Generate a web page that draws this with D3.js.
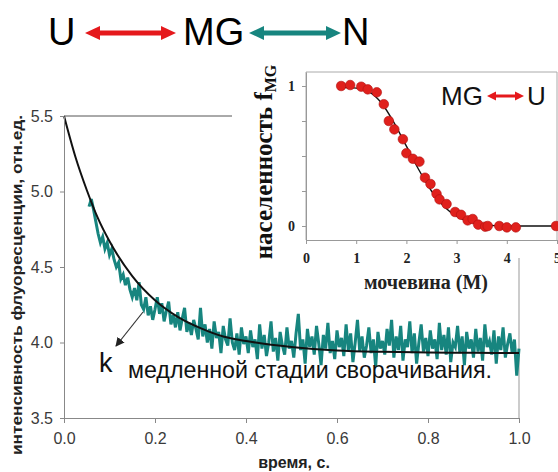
<!DOCTYPE html>
<html>
<head>
<meta charset="utf-8">
<script src="https://cdn.jsdelivr.net/npm/d3@7"></script>
<style>
  body { margin: 0; background: #fff; }
  svg { display: block; }
</style>
</head>
<body>
<svg id="fig" width="558" height="472"></svg>
<script>
// main panel: fluorescence trace, time in s
var traceT0 = 0.055, traceDt = 0.005;
var traceValues = [
  4.90, 4.95, 4.88, 4.80, 4.72, 4.66, 4.70, 4.62, 4.66, 4.58,
  4.62, 4.55, 4.50, 4.53, 4.42, 4.45, 4.38, 4.43, 4.35, 4.30,
  4.36, 4.28, 4.40, 4.25, 4.22, 4.30, 4.18, 4.24, 4.15,
  4.22, 4.30, 4.19, 4.26, 4.14, 4.21, 4.27, 4.12, 4.18, 4.10,
  4.20, 4.08, 4.16, 4.23, 4.07, 4.13, 4.05, 4.15, 4.09, 4.02, 4.23,
  4.04, 4.12, 4.00, 4.09, 3.96, 4.14, 4.03, 4.07, 3.93, 4.11,
  4.02, 3.98, 4.16, 4.00, 3.95, 4.06, 3.92, 4.10, 3.99, 4.04,
  3.93, 4.08, 3.97, 4.02, 3.89, 4.12, 3.96, 4.05, 3.91, 4.00,
  4.14, 3.94, 4.03, 3.88, 4.07, 3.98, 3.92, 4.10, 3.96, 4.01,
  3.90, 4.06, 4.19, 3.95, 4.02, 3.86, 4.09, 3.97, 4.04, 3.92,
  4.11, 3.99, 3.85, 4.05, 3.96, 4.13, 3.93, 4.01, 3.89, 4.08,
  3.97, 4.03, 3.91, 4.12, 3.95, 4.06, 3.87, 4.00, 4.15, 3.94,
  4.04, 3.90, 3.98, 4.10, 3.93, 4.02, 3.84, 4.07, 3.96, 4.01,
  3.92, 4.09, 3.98, 4.15, 3.90, 4.04, 3.95, 4.11, 3.88, 4.02,
  3.97, 4.14, 3.93, 4.06, 3.86, 4.00, 4.12, 3.94, 4.03, 3.91,
  4.08, 3.96, 4.02, 3.89, 4.13, 3.95, 4.05, 3.92, 4.10, 3.87,
  4.00, 3.97, 4.11, 3.93, 4.04, 3.85, 4.07, 3.96, 4.02, 3.90,
  4.09, 3.94, 4.03, 3.88, 4.12, 3.97, 4.01, 3.92, 4.08, 3.86,
  4.04, 3.95, 4.10, 3.90, 3.99, 4.06, 3.93, 4.02, 3.78, 3.96
];
var fitT = [0, 0.025, 0.05, 0.075, 0.1, 0.15, 0.2, 0.25, 0.3, 0.35, 0.4, 0.5, 0.6, 0.7, 0.8, 0.9, 1.0];
var fitV = [5.5, 5.23, 5.01, 4.82, 4.67, 4.44, 4.28, 4.17, 4.095, 4.04, 4.01, 3.97, 3.947, 3.938, 3.934, 3.932, 3.93];
var mainXTicks = [0, 0.2, 0.4, 0.6, 0.8, 1.0];
var mainYTicks = [3.5, 4.0, 4.5, 5.0, 5.5];

// inset: MG population vs urea
var ureaPts = [0.70, 0.88, 1.10, 1.23, 1.41, 1.55, 1.65, 1.76, 1.93, 2.00, 2.13, 2.26, 2.37, 2.48, 2.60, 2.66, 2.80, 2.97, 3.09, 3.22, 3.32, 3.43, 3.57, 3.62, 3.85, 4.00, 4.18, 4.98];
var fmgPts  = [1.00, 1.007, 0.995, 0.976, 0.955, 0.87, 0.75, 0.69, 0.62, 0.52, 0.48, 0.46, 0.345, 0.30, 0.23, 0.19, 0.157, 0.10, 0.08, 0.04, 0.05, 0.01, -0.005, 0.0, 0.0, -0.01, -0.01, 0.0];
var ureaFit = [0.7, 1.0, 1.25, 1.5, 1.75, 2.0, 2.25, 2.5, 2.75, 3.0, 3.25, 3.5, 3.75, 4.0, 5.0];
var fmgFit  = [0.99, 0.985, 0.96, 0.88, 0.74, 0.57, 0.40, 0.25, 0.14, 0.07, 0.03, 0.01, 0.003, 0, 0];
var insetXTicks = [0, 1, 2, 3, 4, 5];
var insetYTicks = [0, 0.25, 0.5, 0.75, 1];

var red = '#e5191c', teal = '#17857f';
var sans = 'Arial, "Liberation Sans", sans-serif';
var serif = '"Liberation Serif", "Times New Roman", serif';
var svg = d3.select('#fig');

var x = d3.scaleLinear().domain([0, 1]).range([64, 519]);
var y = d3.scaleLinear().domain([3.5, 5.5]).range([418, 116]);

// frame bits of the main panel
svg.append('line').attr('x1', 64).attr('x2', 519).attr('y1', 116).attr('y2', 116)
  .attr('stroke', '#555').attr('stroke-width', 1);
svg.append('line').attr('x1', 519).attr('x2', 519).attr('y1', 116).attr('y2', 418)
  .attr('stroke', '#999').attr('stroke-width', 1);

var trace = traceValues.map((v, i) => [traceT0 + i * traceDt, v]);
svg.append('path').datum(trace)
  .attr('fill', 'none').attr('stroke', teal).attr('stroke-width', 3)
  .attr('d', d3.line().x(d => x(d[0])).y(d => y(d[1])));

svg.append('path').datum(fitT.map((t, i) => [t, fitV[i]]))
  .attr('fill', 'none').attr('stroke', '#111').attr('stroke-width', 2)
  .attr('d', d3.line().curve(d3.curveMonotoneX).x(d => x(d[0])).y(d => y(d[1])));

var xAxis = svg.append('g').attr('transform', 'translate(0,418)')
  .call(d3.axisBottom(x).tickValues(mainXTicks).tickFormat(d3.format('.1f'))
    .tickSize(5).tickSizeOuter(0).tickPadding(10));
var yAxis = svg.append('g').attr('transform', 'translate(64,0)')
  .call(d3.axisLeft(y).tickValues(mainYTicks).tickFormat(d3.format('.1f'))
    .tickSize(4).tickSizeOuter(0).tickPadding(7));
[xAxis, yAxis].forEach(function(a) {
  a.select('.domain').attr('stroke', '#888');
  a.selectAll('.tick line').attr('stroke', '#888');
  a.selectAll('text').attr('font-family', sans)
    .attr('font-size', 16).attr('fill', '#3a3a3a');
});

svg.append('text').attr('x', 294).attr('y', 468).attr('text-anchor', 'middle')
  .attr('font-family', sans).attr('font-weight', 'bold')
  .attr('font-size', 16).attr('fill', '#222').text('время, с.');
svg.append('text').attr('transform', 'translate(22,285) rotate(-90)').attr('text-anchor', 'middle')
  .attr('font-family', sans).attr('font-weight', 'bold')
  .attr('font-size', 15).attr('fill', '#222')
  .attr('textLength', 340).attr('lengthAdjust', 'spacingAndGlyphs')
  .text('интенсивность флуоресценции, отн.ед.');

// annotation arrow and label
var defs = svg.append('defs');
defs.append('marker').attr('id', 'ah').attr('viewBox', '0 0 10 10')
  .attr('refX', 9).attr('refY', 5).attr('markerWidth', 9).attr('markerHeight', 9)
  .attr('markerUnits', 'userSpaceOnUse').attr('orient', 'auto')
  .append('path').attr('d', 'M0,0 L10,5 L0,10 z').attr('fill', '#222');
svg.append('line').attr('x1', 143).attr('y1', 312).attr('x2', 116).attr('y2', 346)
  .attr('stroke', '#333').attr('stroke-width', 1.2).attr('marker-end', 'url(#ah)');
svg.append('text').attr('x', 99).attr('y', 372)
  .attr('font-family', sans).attr('font-size', 27)
  .attr('fill', '#111').text('k');
svg.append('text').attr('x', 128).attr('y', 378)
  .attr('font-family', sans).attr('font-size', 24)
  .attr('fill', '#111').attr('textLength', 364).attr('lengthAdjust', 'spacingAndGlyphs')
  .text('медленной стадии сворачивания.');

// inset panel
svg.append('rect').attr('x', 232).attr('y', 56).attr('width', 326).attr('height', 202)
  .attr('fill', '#fff');
var ix = d3.scaleLinear().domain([0, 5]).range([306, 557]);
var iy = d3.scaleLinear().domain([-0.1, 1.1]).range([240, 72]);

svg.append('path').attr('d', 'M306,240 L306,72 L557,72 L557,240')
  .attr('fill', 'none').attr('stroke', '#aaa').attr('stroke-width', 1);

var ixAxis = svg.append('g').attr('transform', 'translate(0,240)')
  .call(d3.axisBottom(ix).tickValues(insetXTicks).tickFormat(d3.format('d'))
    .tickSize(4).tickSizeOuter(0).tickPadding(9));
var iyAxis = svg.append('g').attr('transform', 'translate(306,0)')
  .call(d3.axisLeft(iy).tickValues(insetYTicks)
    .tickFormat(d => (d === 0 || d === 1) ? d3.format('d')(d) : '')
    .tickSize(4).tickSizeOuter(0).tickPadding(7));
[ixAxis, iyAxis].forEach(function(a) {
  a.select('.domain').attr('stroke', '#999');
  a.selectAll('.tick line').attr('stroke', '#999');
  a.selectAll('text').attr('font-family', serif)
    .attr('font-weight', 'bold').attr('font-size', 14).attr('fill', '#222');
});

svg.append('path').datum(ureaFit.map((u, i) => [u, fmgFit[i]]))
  .attr('fill', 'none').attr('stroke', '#111').attr('stroke-width', 1.4)
  .attr('d', d3.line().curve(d3.curveMonotoneX).x(d => ix(d[0])).y(d => iy(d[1])));

svg.append('g').selectAll('circle')
  .data(ureaPts.map((u, i) => [u, fmgPts[i]]))
  .enter().append('circle')
  .attr('cx', d => ix(d[0])).attr('cy', d => iy(d[1])).attr('r', 4.8)
  .attr('fill', '#e0201c').attr('stroke', '#b01010').attr('stroke-width', 0.6);

var ylab = svg.append('text').attr('transform', 'translate(272,162) rotate(-90)')
  .attr('text-anchor', 'middle')
  .attr('font-family', serif).attr('font-weight', 'bold')
  .attr('font-size', 25).attr('fill', '#111');
ylab.append('tspan').text('населенность f');
ylab.append('tspan').attr('font-size', 16).attr('dy', 4).text('MG');

svg.append('text').attr('x', 426).attr('y', 289).attr('text-anchor', 'middle')
  .attr('font-family', serif).attr('font-weight', 'bold')
  .attr('font-size', 20).attr('fill', '#222').text('мочевина (М)');

// double arrows
function dblArrow(x1, x2, yy, color, w, hl, hw) {
  var g = svg.append('g');
  g.append('line').attr('x1', x1 + hl - 1).attr('x2', x2 - hl + 1).attr('y1', yy).attr('y2', yy)
    .attr('stroke', color).attr('stroke-width', w);
  g.append('path').attr('d', 'M' + x1 + ',' + yy + ' L' + (x1 + hl) + ',' + (yy - hw / 2) +
      ' L' + (x1 + hl) + ',' + (yy + hw / 2) + ' Z').attr('fill', color);
  g.append('path').attr('d', 'M' + x2 + ',' + yy + ' L' + (x2 - hl) + ',' + (yy - hw / 2) +
      ' L' + (x2 - hl) + ',' + (yy + hw / 2) + ' Z').attr('fill', color);
}

svg.append('text').attr('x', 441).attr('y', 105).attr('font-family', sans)
  .attr('font-size', 26).attr('fill', '#111').text('MG');
dblArrow(487, 524, 96, red, 3, 9, 9);
svg.append('text').attr('x', 527).attr('y', 105).attr('font-family', sans)
  .attr('font-size', 26).attr('fill', '#111').text('U');

// title scheme
svg.append('text').attr('x', 48).attr('y', 45).attr('font-family', sans)
  .attr('font-size', 38).attr('fill', '#000').text('U');
dblArrow(85, 176, 33, red, 5, 15, 14);
svg.append('text').attr('x', 183).attr('y', 45).attr('font-family', sans)
  .attr('font-size', 38).attr('fill', '#000').text('MG');
dblArrow(249, 341, 33, teal, 5, 15, 14);
svg.append('text').attr('x', 342).attr('y', 45).attr('font-family', sans)
  .attr('font-size', 38).attr('fill', '#000').text('N');
</script>
</body>
</html>
